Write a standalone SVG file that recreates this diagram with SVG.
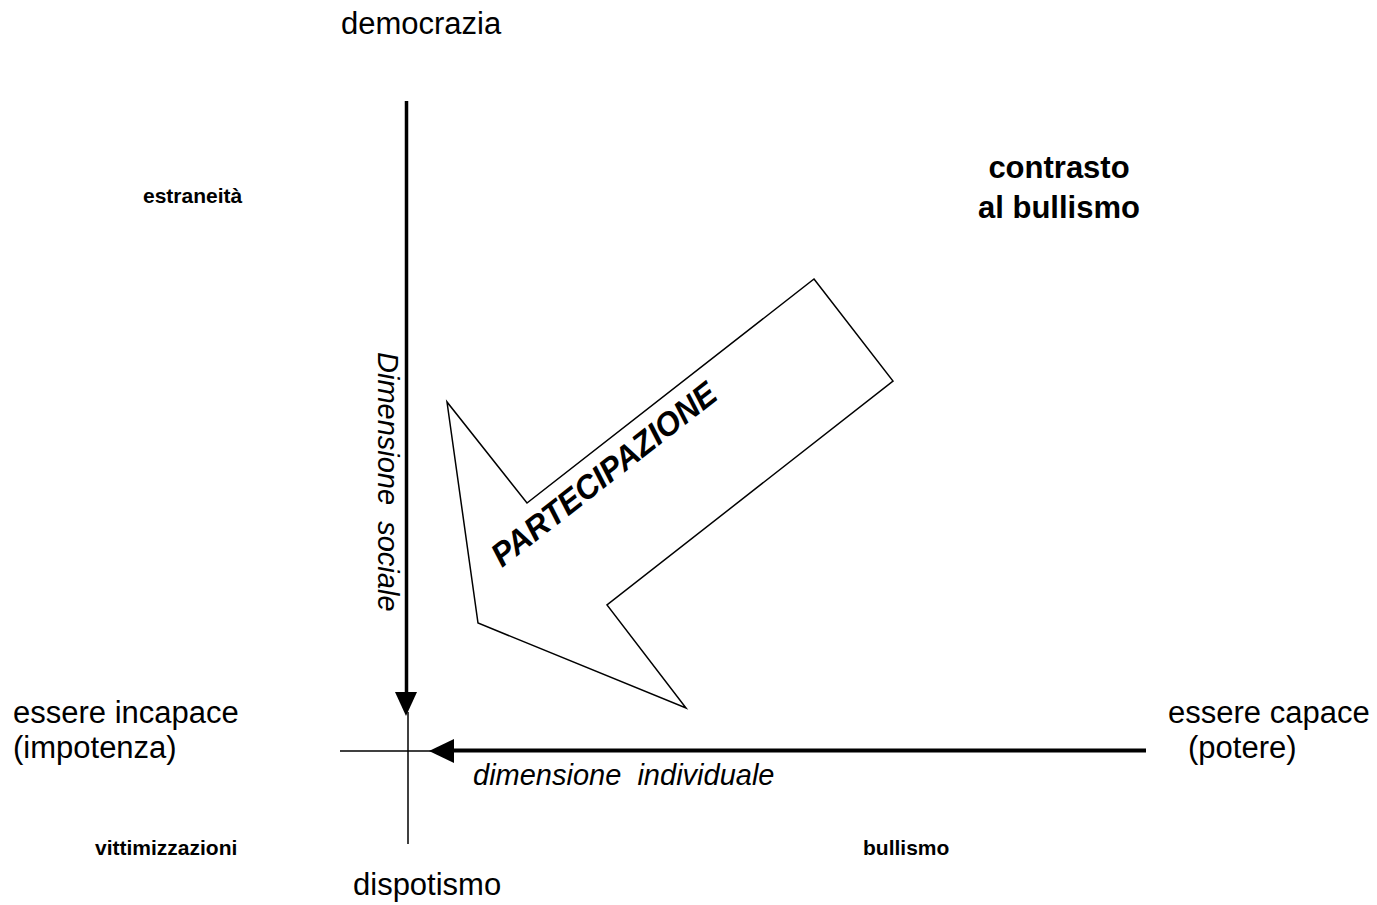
<svg xmlns="http://www.w3.org/2000/svg" width="1377" height="905" viewBox="0 0 1377 905">
<style>
.t{font-family:"Liberation Sans",Arial,sans-serif;fill:#000}
.r{font-size:31px}
.b{font-size:21px;font-weight:bold}
.bb{font-size:31px;font-weight:bold}
.i{font-size:29px;font-style:italic}
.thick{stroke:#000;stroke-width:3.5;fill:none}
.thin{stroke:#000;stroke-width:1.5;fill:none}
</style>
<rect width="1377" height="905" fill="#fff"/>
<g id="connectors">
<line class="thick" x1="406.5" y1="101" x2="406.5" y2="693"/>
<polygon points="395,692 417,692 406,716" fill="#000"/>
<line class="thin" x1="408" y1="712" x2="408" y2="844"/>
<line class="thin" x1="340" y1="751" x2="432" y2="751"/>
<line stroke="#000" stroke-width="4" x1="452" y1="750.5" x2="1146" y2="750.5"/>
<polygon points="429,751 454,739 454,763" fill="#000"/>
</g>
<g id="arrow-partecipazione">
<polygon points="814,279 893,381 607,605 686,708 478,623 447,402 527,503" fill="#fff" stroke="#000" stroke-width="1.5" stroke-linejoin="miter"/>
<text class="t" font-size="33" font-weight="bold" font-style="italic" textLength="276" lengthAdjust="spacingAndGlyphs" transform="translate(502,568) rotate(-38)">PARTECIPAZIONE</text>
</g>
<g id="democrazia"><text class="t r" x="341" y="34">democrazia</text></g>
<g id="dispotismo"><text class="t r" x="353" y="895">dispotismo</text></g>
<g id="incapace"><text class="t r" x="13" y="723">essere incapace</text><text class="t r" x="13" y="758">(impotenza)</text></g>
<g id="capace"><text class="t r" x="1168" y="723">essere capace</text><text class="t r" x="1188" y="758">(potere)</text></g>
<g id="contrasto"><text class="t bb" x="1059" y="178" text-anchor="middle">contrasto</text><text class="t bb" x="1059" y="218" text-anchor="middle">al bullismo</text></g>
<g id="estraneita"><text class="t b" x="143" y="203">estraneità</text></g>
<g id="vittimizzazioni"><text class="t b" x="95" y="855">vittimizzazioni</text></g>
<g id="bullismo"><text class="t b" x="863" y="855">bullismo</text></g>
<g id="dim-individuale"><text class="t i" x="473" y="785" xml:space="preserve">dimensione  individuale</text></g>
<g id="dim-sociale"><text class="t i" transform="translate(378,352) rotate(90)" xml:space="preserve">Dimensione  sociale</text></g>
</svg>
